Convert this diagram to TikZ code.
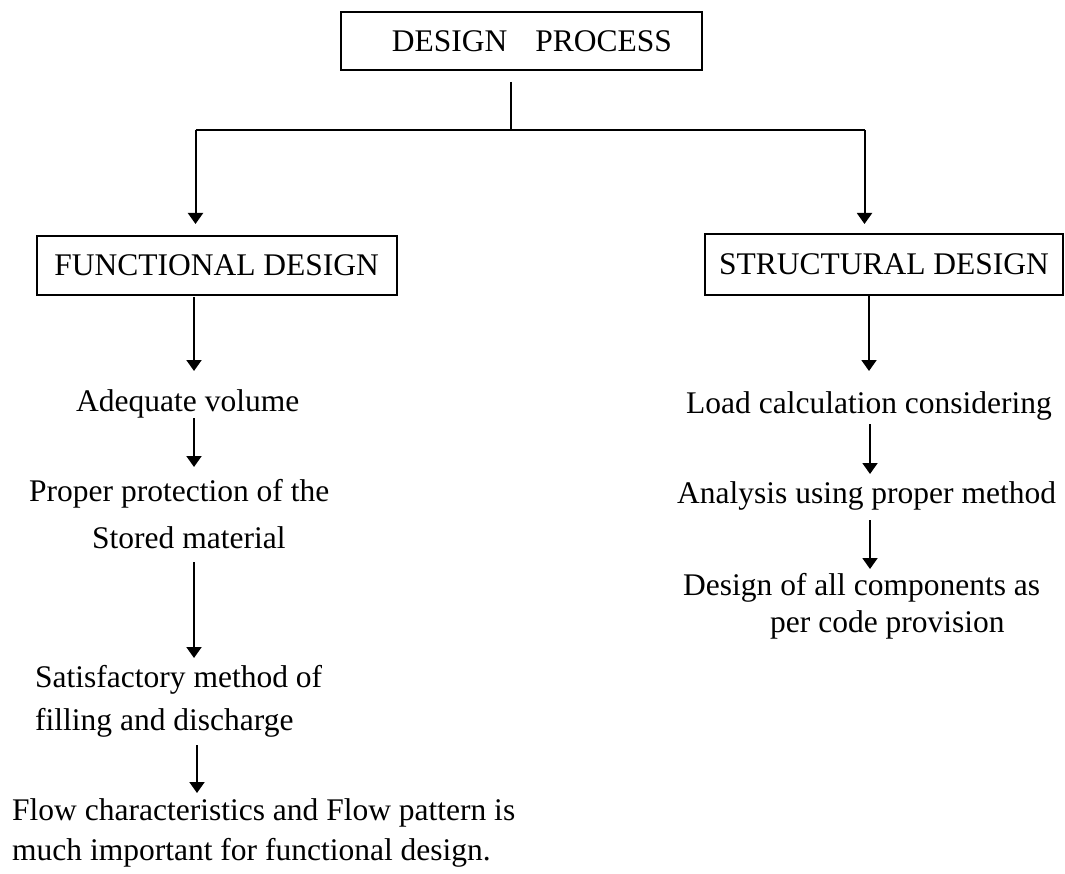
\documentclass[tikz,border=0pt]{standalone}
\usepackage{fontspec}
\setmainfont{Liberation Serif}
\usetikzlibrary{arrows.meta}
\begin{document}
\begin{tikzpicture}[x=1pt,y=-1pt,
  every node/.style={font=\fontsize{31.5}{38}\selectfont},
  box/.style={draw,line width=1.8pt,inner sep=0pt,minimum width=#1},
  txt/.style={anchor=base west,inner sep=0pt},
  link/.style={line width=2pt},
  arr/.style={line width=2pt,-{Triangle[width=15pt,length=11pt]}}]
\useasboundingbox (0,0) rectangle (1065,874);
% boxes
\node[box=361pt,minimum height=58pt] (dp) at (521.5,41) {\hspace*{21pt}DESIGN\hspace{28pt}PROCESS};
\node[box=360pt,minimum height=59pt] (fd) at (216.7,265.5) {FUNCTIONAL DESIGN};
\node[box=358pt,minimum height=61pt] (sd) at (884,264.5) {STRUCTURAL DESIGN};
% left column texts
\node[txt] (av) at (76,411.7) {Adequate volume};
\node[txt] (pp1) at (29,501.7) {Proper protection of the};
\node[txt] (pp2) at (92,548) {Stored material};
\node[txt] (sm1) at (35,687) {Satisfactory method of};
\node[txt] (sm2) at (35,730) {filling and discharge};
\node[txt] (fc1) at (12,820) {Flow characteristics and Flow pattern is};
\node[txt] (fc2) at (12,860) {much important for functional design.};
% right column texts
\node[txt] (lc) at (686,413) {Load calculation considering};
\node[txt] (an) at (677,503) {Analysis using proper method};
\node[txt] (dc1) at (683,595) {Design of all components as};
\node[txt] (dc2) at (770,632) {per code provision};
% junction coordinates
\coordinate (t0) at (511,82);
\coordinate (j) at (511,130);
\coordinate (jl) at (195.5,130);
\coordinate (jr) at (864.5,130);
\coordinate (fdin) at (195.5,224);
\coordinate (sdin) at (864.5,224);
\draw[link] (t0) -- (j);
\draw[link] (jl) -- (jr);
\draw[arr] (jl) -- (fdin);
\draw[arr] (jr) -- (sdin);
% left arrows
\coordinate (l1a) at (194,297); \coordinate (l1b) at (194,371);
\coordinate (l2a) at (194,418); \coordinate (l2b) at (194,467);
\coordinate (l3a) at (194,562); \coordinate (l3b) at (194,658);
\coordinate (l4a) at (197,745); \coordinate (l4b) at (197,793);
\draw[arr] (l1a) -- (l1b);
\draw[arr] (l2a) -- (l2b);
\draw[arr] (l3a) -- (l3b);
\draw[arr] (l4a) -- (l4b);
% right arrows
\coordinate (r1a) at (869,296); \coordinate (r1b) at (869,371);
\coordinate (r2a) at (870,424); \coordinate (r2b) at (870,474);
\coordinate (r3a) at (870,520); \coordinate (r3b) at (870,569);
\draw[arr] (r1a) -- (r1b);
\draw[arr] (r2a) -- (r2b);
\draw[arr] (r3a) -- (r3b);
\end{tikzpicture}
\end{document}
